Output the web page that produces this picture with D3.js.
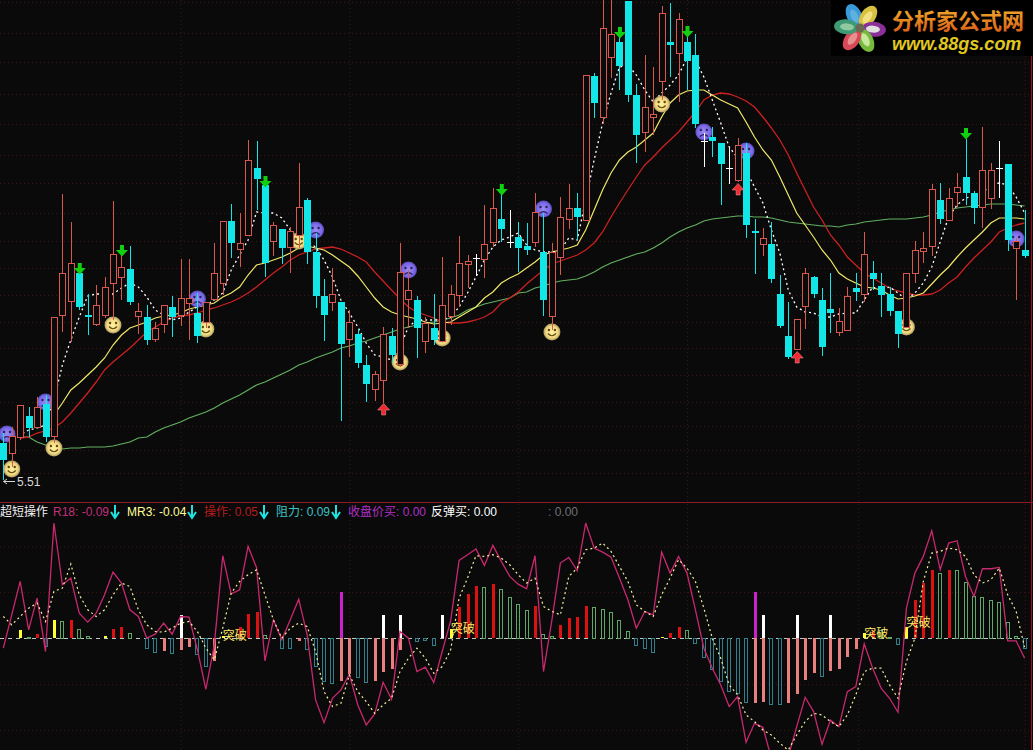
<!DOCTYPE html>
<html><head><meta charset="utf-8">
<script src="https://cdn.jsdelivr.net/npm/d3@7"></script>
<style>html,body{margin:0;padding:0;background:#0a0a0a;overflow:hidden}svg{display:block}
text{font-family:"Liberation Sans","Noto Sans CJK SC",sans-serif}</style></head><body>
<svg id="c" width="1033" height="750"></svg>
<script>
// prices are in cents; sub-panel values in 1/667 units
const opens=[625,605,637,679,657,703,639,881,909,965,881,863,881,945,957,973,879,877,833,863,897,881,905,885,867,913,945,1069,1013,1041,1175,1141,1029,1053,1017,1041,1111,1007,919,907,907,833,843,781,733,751,839,783,913,911,829,855,829,879,921,983,995,993,1027,1073,1027,1037,1019,1027,1007,879,997,1073,1095,1071,1359,1277,1397,1427,1509,1321,1247,1277,1349,1427,1405,1427,1401,1229,1237,1225,1175,1151,1205,1049,1023,1023,923,839,813,899,957,911,893,847,851,935,923,965,939,923,889,857,965,1009,1019,1111,1071,1127,1157,1125,1097,1115,1175,1183,1015,1011];
const closes=[591,639,701,655,697,637,877,965,985,897,877,901,937,1003,977,907,889,831,855,901,877,915,915,839,907,965,1069,1025,1025,1191,1153,985,1061,1015,1049,1097,1007,919,881,923,823,867,785,743,763,843,801,967,931,855,865,831,901,923,985,989,995,1023,1095,1053,1027,1015,1011,1087,911,1007,1077,1095,1077,1361,1305,1455,1443,1379,1321,1241,1297,1283,1485,1421,1473,1389,1263,1229,1229,1183,1175,1221,1061,1045,1035,953,859,797,873,965,923,817,885,869,919,927,1003,953,921,889,843,965,1011,1015,1133,1073,1115,1137,1125,1095,1171,1171,1175,1031,1029,999];
const highs=[645,657,701,697,717,721,877,1123,1067,981,923,941,957,1109,1001,1019,905,901,867,901,919,993,993,925,907,1025,1069,1103,1085,1231,1229,1141,1067,1053,1057,1185,1115,1045,953,975,907,891,853,801,769,857,855,1025,971,919,877,923,997,941,1039,1001,1003,1101,1135,1125,1091,1067,1065,1125,1085,1025,1117,1143,1125,1361,1365,1521,1521,1455,1509,1343,1401,1377,1499,1505,1485,1457,1443,1245,1257,1225,1215,1235,1225,1073,1055,1067,961,907,873,975,959,935,965,895,937,965,1047,989,965,937,889,965,1029,1047,1143,1145,1135,1165,1233,1129,1257,1185,1229,1183,1035,1091];
const lows=[551,577,631,637,655,627,625,847,827,891,841,859,875,871,911,901,843,821,827,845,837,859,831,825,855,911,921,995,977,1041,1091,957,999,983,965,1015,983,895,829,889,669,797,775,707,709,705,787,777,855,795,805,821,829,861,897,935,959,955,1017,1027,1015,967,1001,1017,879,851,961,1053,1031,1071,1275,1263,1355,1331,1307,1185,1207,1241,1311,1357,1307,1331,1255,1177,1197,1101,1143,1147,1035,963,999,945,855,793,813,853,915,799,845,839,851,909,907,931,877,879,815,857,945,985,999,1063,1071,1097,1101,1063,1055,1093,1115,1009,911,995];

const maYellow=[null,null,null,null,null,null,681,705,731,745,761,777,795,821,841,855,861,867,875,879,881,885,893,897,901,905,917,925,937,961,981,985,991,997,1005,1015,1019,1015,1011,1001,989,977,959,937,915,897,887,881,877,873,867,863,865,867,877,887,897,915,927,945,955,963,975,987,1001,1007,1011,1015,1021,1051,1091,1131,1165,1191,1207,1217,1231,1245,1277,1305,1321,1329,1331,1331,1321,1311,1303,1295,1267,1237,1211,1191,1157,1121,1085,1061,1037,1011,991,965,953,945,937,935,931,921,913,915,919,925,943,961,977,997,1015,1031,1047,1065,1075,1075,1075,1073];
const maGreen=[null,null,637,637,627,621,615,613,615,615,617,617,617,619,623,627,635,637,647,655,661,667,675,681,687,695,705,713,721,731,741,747,755,763,771,781,787,795,801,807,815,819,825,829,835,841,847,853,857,861,865,867,871,875,881,891,897,903,907,911,915,925,927,935,939,945,949,951,953,959,967,977,985,991,997,1003,1007,1015,1025,1037,1047,1055,1061,1069,1073,1075,1077,1079,1079,1077,1077,1075,1071,1067,1065,1063,1061,1059,1059,1057,1061,1063,1067,1069,1071,1073,1073,1073,1075,1077,1081,1087,1091,1095,1097,1099,1101,1103,1103,1103,1101,1099];
const maRed=[null,null,635,637,645,649,655,667,685,705,725,747,771,787,801,815,831,847,857,867,875,879,881,885,891,895,901,907,915,925,937,951,965,977,991,1001,1007,1013,1015,1017,1013,1005,997,987,967,949,931,913,897,887,881,875,867,865,865,867,871,877,887,905,915,927,943,957,971,983,989,995,1001,1011,1025,1047,1077,1105,1131,1157,1181,1197,1215,1231,1247,1267,1287,1311,1321,1325,1323,1317,1309,1297,1277,1255,1231,1201,1165,1131,1097,1071,1041,1021,997,981,965,955,945,935,929,925,921,921,923,931,945,957,977,995,1011,1027,1047,1055,1061,1065];
const maWhite=[637,637,641,651,655,661,711,781,831,877,919,923,923,923,935,945,937,917,891,881,871,875,887,897,901,911,925,971,1001,1031,1087,1085,1085,1075,1051,1035,1027,1017,991,957,911,885,857,825,801,797,791,817,857,871,871,871,871,877,897,925,957,991,1017,1031,1037,1045,1021,1011,1007,1007,1011,1035,1031,1111,1191,1265,1325,1377,1381,1361,1331,1307,1325,1341,1361,1395,1391,1357,1311,1265,1217,1195,1171,1137,1105,1051,1005,931,897,887,885,877,877,883,885,885,911,937,931,937,925,911,925,945,977,1027,1077,1101,1115,1119,1125,1141,1145,1141,1117,1085];

const smileIdx=[1,6,13,24,35,47,52,65,78,107];
const smilePrice=[573,615,861,853,1029,787,835,847,1303,857];
const sadIdx=[0,5,23,37,48,64,83,88,120];
const sadPrice=[643,707,913,1051,971,1093,1247,1209,1033];
const downIdx=[9,14,31,59,73,81,114];
const downPrice=[973,1009,1147,1131,1445,1447,1243];
const upIdx=[45,87,94];
const upPrice=[693,1133,797];
const gridPrices=[1507,1445,1387,1323,1263,1201,1145,1085,1029,975,921,867,815,761,707,659,611,565];
const gridIdx=[21,41,61,81,101.3,121];
const lowLabel="5.51";

const r18=[-30,70,170,25,120,-40,345,160,180,75,48,75,130,198,165,85,65,0,12,45,12,65,63,-35,-153,-20,247,133,145,275,212,-68,55,-5,55,117,10,-185,-253,-180,-155,-108,-200,-260,-227,-132,-183,20,0,-100,-87,-133,-40,52,233,250,267,218,278,230,185,162,148,247,-100,55,225,242,202,345,270,258,243,180,115,30,80,70,258,195,245,195,85,-30,-90,-140,-205,-175,-312,-255,-267,-360,-370,-355,-265,-177,-220,-318,-245,-265,-160,-145,-17,-90,-150,-180,-222,90,195,245,322,205,285,292,185,125,208,208,212,-8,-8,-60];
const mr3=[65,40,65,90,105,50,140,150,222,130,85,65,85,130,165,155,85,40,20,18,30,45,50,20,-30,-65,30,135,170,190,205,130,55,0,30,45,35,-40,-160,-205,-195,-110,-160,-190,-225,-200,-180,-100,-60,-30,-60,-105,-85,-35,120,180,247,245,250,240,220,190,165,180,95,80,70,185,210,265,270,285,260,215,170,100,80,65,130,180,235,210,170,90,0,-60,-140,-170,-230,-250,-275,-290,-315,-335,-290,-250,-225,-230,-250,-265,-230,-170,-100,-90,-90,-140,-180,-70,0,170,255,260,270,265,245,190,165,175,210,130,80,-27];

const barYellow=[[2,25],[6,55],[12,7],[26,8],[53,28],[78,3],[102,15],[107,35]];
const barRed=[[4,13],[8,55],[13,28],[14,35],[28,35],[29,72],[30,79],[54,92],[55,133],[56,157],[58,163],[63,95],[66,40],[67,60],[68,64],[69,97],[79,16],[80,35],[103,22],[108,115],[109,165],[110,205],[112,205]];
const barGreen=[[3,5],[7,52],[9,28],[10,7],[15,16],[31,10],[57,153],[59,147],[60,123],[61,102],[62,85],[64,12],[65,7],[70,94],[71,88],[72,78],[73,54],[74,22],[81,25],[104,25],[105,3],[111,195],[113,204],[114,168],[115,125],[116,123],[117,114],[118,108],[119,48],[120,8]];
const barTeal=[[5,-22],[17,-28],[18,-40],[20,-43],[23,-47],[24,-82],[33,-28],[34,-28],[36,-33],[37,-83],[38,-127],[39,-133],[42,-115],[43,-130],[49,-7],[50,-6],[51,-20],[75,-20],[76,-30],[77,-40],[82,-13],[83,-55],[84,-93],[85,-127],[86,-157],[87,-163],[88,-192],[91,-198],[92,-198],[97,-112],[106,-17],[121,-28]];
const barPink=[[19,-37],[21,-35],[22,-25],[25,-67],[35,-7],[40,-127],[41,-107],[44,-127],[45,-100],[46,-92],[47,-35],[89,-193],[90,-190],[93,-193],[94,-167],[95,-125],[96,-103],[98,-97],[99,-91],[100,-55],[101,-32]];
const barWhite=[[21,70],[45,70],[47,70],[52,70],[90,70],[94,70],[98,70]];
const barMagenta=[[40,138],[89,138]];
const breakIdx=[26,53,102,107];
const breakValue=[9,30,15,48];
const breakLabel="突破";
const subGrid=[275,138,-138,-275];
const panelName="超短操作";
const legendItems=[["R18: -0.09","#c0307a",53,115],["MR3: -0.04","#ffff99",127,192],["操作: 0.05","#b81c1c",204,264],["阻力: 0.09","#3cc4c4",276,336],["收盘价买: 0.00","#b030c8",348,null],["反弹买: 0.00","#ffffff",431,null],[": 0.00","#707070",548,null]];
const logoName="分析家公式网", logoUrl="www.88gs.com";

const svg=d3.select("#c");
svg.append("rect").attr("width",1033).attr("height",750).attr("fill","#0a0a0a");
const defs=svg.append("defs");
defs.append("clipPath").attr("id","mainClip").append("rect").attr("width",1031).attr("height",500);
defs.append("clipPath").attr("id","subClip").append("rect").attr("y",504).attr("width",1031).attr("height",246);
const gs=defs.append("radialGradient").attr("id","smile");
gs.append("stop").attr("offset","0").attr("stop-color","#fff0a0");
gs.append("stop").attr("offset",".7").attr("stop-color","#f2d880");
gs.append("stop").attr("offset","1").attr("stop-color","#a89860");
const gp=defs.append("radialGradient").attr("id","sad");
gp.append("stop").attr("offset","0").attr("stop-color","#9a8cf0");
gp.append("stop").attr("offset",".75").attr("stop-color","#7a68e8");
gp.append("stop").attr("offset","1").attr("stop-color","#5548b0");
const gl=defs.append("linearGradient").attr("id","logoText").attr("x1",0).attr("y1",0).attr("x2",0).attr("y2",1);
gl.append("stop").attr("offset","0").attr("stop-color","#f0a828");
gl.append("stop").attr("offset","1").attr("stop-color","#d85a18");

const x=d3.scaleLinear().domain([0,121]).range([3.3,1024.6]);
const y=d3.scaleLinear().domain([1511,551]).range([0,480]);
const sy=d3.scaleLinear().domain([-335,405]).range([750,503]);
const px=i=>Math.round(x(i));

// grids
const gridStyle=g=>{g.select(".domain").remove();g.selectAll("line").attr("stroke","#3e1616").attr("stroke-dasharray","1,3");};
svg.append("g").call(d3.axisRight(y).tickValues(gridPrices).tickSize(1031).tickFormat("")).call(gridStyle);
svg.append("g").call(d3.axisRight(sy).tickValues(subGrid).tickSize(1031).tickFormat("")).call(gridStyle);
svg.append("g").call(d3.axisBottom(x).tickValues(gridIdx).tickSize(750).tickFormat("")).call(gridStyle);

// main panel
const main=svg.append("g").attr("clip-path","url(#mainClip)");
const mk=d3.line().defined(d=>d!=null).x((d,i)=>x(i)).y(d=>y(d));
[[maGreen,"#62b060",1.2],[maRed,"#cc2020",1.3],[maYellow,"#f0e868",1.2],[maWhite,"#ffffff",1.3,"2,3"]].forEach(([a,c,w,dash])=>{
  main.append("path").attr("d",mk(a)).attr("fill","none").attr("stroke",c).attr("stroke-width",w).attr("stroke-dasharray",dash||null);
});
function face(cx,cy,happy){
  const g=main.append("g").attr("transform",`translate(${Math.max(cx,7)},${cy})`);
  g.append("circle").attr("r",8.5).attr("fill",`url(#${happy?"smile":"sad"})`);
  const ink=happy?"#5a4a10":"#2a2060";
  g.append("circle").attr("cx",-3).attr("cy",-2).attr("r",1.2).attr("fill",ink);
  g.append("circle").attr("cx",3).attr("cy",-2).attr("r",1.2).attr("fill",ink);
  g.append("path").attr("d",happy?"M-4,1.5Q0,6 4,1.5":"M-4,4.5Q0,0.8 4,4.5").attr("fill","none").attr("stroke",ink).attr("stroke-width",1.2);
}
sadIdx.forEach((d,k)=>face(x(d),y(sadPrice[k]),false));
smileIdx.forEach((d,k)=>face(x(d),y(smilePrice[k]),true));

const RED="#d8584e",CY="#12e6e6";
opens.forEach((o,i)=>{
  const c=closes[i],X=px(i);
  const col=c>o?RED:(c<o?CY:"#ffffff");
  const top=Math.round(y(Math.max(o,c))),bot=Math.round(y(Math.min(o,c)));
  main.append("line").attr("x1",X+.5).attr("x2",X+.5).attr("y1",Math.round(y(highs[i]))).attr("y2",Math.round(y(lows[i]))).attr("stroke",col).attr("stroke-width",1).attr("shape-rendering","crispEdges");
  if(c>o){
    main.append("rect").attr("x",X-3+.5).attr("y",top+.5).attr("width",6).attr("height",bot-top).attr("fill","#0a0a0a").attr("stroke",col).attr("shape-rendering","crispEdges");
  }else if(c<o){
    main.append("rect").attr("x",X-3).attr("y",top).attr("width",7).attr("height",Math.max(bot-top,2)).attr("fill",col).attr("shape-rendering","crispEdges");
  }else{
    main.append("rect").attr("x",X-3).attr("y",top).attr("width",7).attr("height",1).attr("fill",col).attr("shape-rendering","crispEdges");
  }
});
const arrowDown="M-2,-6H2V-1H6L0,5.5L-6,-1H-2Z", arrowUp="M-2,6H2V1H6L0,-5.5L-6,1H-2Z";
downIdx.forEach((d,k)=>main.append("path").attr("d",arrowDown).attr("transform",`translate(${x(d)+.5},${y(downPrice[k])})`).attr("fill","#10d010"));
upIdx.forEach((d,k)=>main.append("path").attr("d",arrowUp).attr("transform",`translate(${x(d)+.5},${y(upPrice[k])})`).attr("fill","#f02a30").attr("stroke","#ff9a9a").attr("stroke-width",.5));

// low label
svg.append("path").attr("d","M3.5,481.5H15M3.5,481.5l3.5,-2.5M3.5,481.5l3.5,2.5").attr("stroke","#d8d8d8").attr("fill","none");
svg.append("text").attr("x",17).attr("y",486).attr("font-size",12).attr("fill","#d8d8d8").text(lowLabel);

// frame
svg.append("line").attr("x1",0).attr("x2",1033).attr("y1",502.5).attr("y2",502.5).attr("stroke","#8e1a22");
svg.append("line").attr("x1",1031.5).attr("x2",1031.5).attr("y1",0).attr("y2",750).attr("stroke","#a01020");

// sub panel
const sub=svg.append("g").attr("clip-path","url(#subClip)");
sub.append("line").attr("x1",0).attr("x2",1031).attr("y1",Math.round(sy(0))+.5).attr("y2",Math.round(sy(0))+.5).attr("stroke","#bcc8c0").attr("stroke-dasharray","4,4");
function solid(a,c){a.forEach(([i,v])=>{const t=Math.round(sy(Math.max(v,0))),b=Math.round(sy(Math.min(v,0)));
  sub.append("rect").attr("x",px(i)-1).attr("y",t).attr("width",3.4).attr("height",b-t).attr("fill",c).attr("shape-rendering","crispEdges");});}
function hollow(a,c){a.forEach(([i,v])=>{const t=Math.round(sy(Math.max(v,0))),b=Math.round(sy(Math.min(v,0)));
  sub.append("rect").attr("x",px(i)-1.5).attr("y",t+.5).attr("width",3).attr("height",b-t).attr("fill","none").attr("stroke",c).attr("shape-rendering","crispEdges");});}
hollow(barTeal,"#2f7f8c");hollow(barGreen,"#5ea86a");
solid(barPink,"#e88080");solid(barRed,"#dc1212");solid(barYellow,"#ffff33");solid(barWhite,"#ffffff");solid(barMagenta,"#cc22cc");
const sl=d3.line().x((d,i)=>x(i)).y(d=>sy(d));
sub.append("path").attr("d",sl(r18)).attr("fill","none").attr("stroke","#c8286e").attr("stroke-width",1.3);
sub.append("path").attr("d",sl(mr3)).attr("fill","none").attr("stroke","#f5f0a0").attr("stroke-width",1.2).attr("stroke-dasharray","2,3");
breakIdx.forEach((d,k)=>sub.append("text").attr("x",x(d)).attr("y",sy(breakValue[k])+5).attr("font-size",12).attr("fill","#ffe866").text(breakLabel));

// legend
const lg=svg.append("g");
lg.append("text").attr("x",0).attr("y",516).attr("font-size",12).attr("fill","#f0f0f0").text(panelName);
legendItems.forEach(([t,c,lx,ax])=>{
  lg.append("text").attr("x",lx).attr("y",516).attr("font-size",12).attr("fill",c).text(t);
  if(ax!=null)lg.append("path").attr("d",`M${ax},505V517M${ax-4},512L${ax},518L${ax+4},512`).attr("fill","none").attr("stroke","#20e0e0").attr("stroke-width",2);
});

// logo
const lo=svg.append("g");
lo.append("rect").attr("x",831).attr("y",0).attr("width",202).attr("height",56).attr("fill","#000");
const petals=["#3a9ad9","#d8c040","#8a3098","#78b83c","#d84858","#3e9a74"];
const rim=["#60b0e0","#f0e080","#e0e0e0","#c8e8a0","#e89090","#90c8a0"];
petals.forEach((c,k)=>{
  const g=lo.append("g").attr("transform",`translate(860,28) rotate(${-25+60*k})`);
  g.append("ellipse").attr("cx",0).attr("cy",-14).attr("rx",7.5).attr("ry",12).attr("fill",c);
  g.append("ellipse").attr("cx",0).attr("cy",-13).attr("rx",3.5).attr("ry",7).attr("fill",rim[k]);
});
lo.append("circle").attr("cx",860).attr("cy",28).attr("r",4.5).attr("fill","#6a6a50");
lo.append("text").attr("x",892).attr("y",29).attr("font-size",22).attr("font-weight",700).attr("font-family","Noto Sans CJK SC").attr("fill","url(#logoText)").text(logoName);
lo.append("text").attr("x",892).attr("y",49.5).attr("font-size",18).attr("font-weight",700).attr("font-style","italic").attr("fill","#e0c820").text(logoUrl);
</script></body></html>
